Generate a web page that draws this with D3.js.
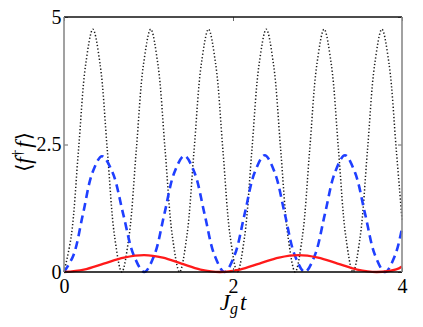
<!DOCTYPE html>
<html>
<head>
<meta charset="utf-8">
<script src="https://cdn.jsdelivr.net/npm/d3@7"></script>
<style>
  body { margin: 0; background: #fff; }
  svg { display: block; }
</style>
</head>
<body>
<svg id="chart" width="423" height="327"></svg>
<script>
const xTicks = [0, 2, 4];
const yTicks = [0, 2.5, 5];
const yTickLabels = ["0", "2.5", "5"];

// black dotted
const tBlack = [0, 0.0855, 0.171, 0.2565, 0.342, 0.4275, 0.513, 0.5985, 0.684, 0.7695, 0.855, 0.9405,
  1.026, 1.1115, 1.197, 1.2825, 1.368, 1.4535, 1.539, 1.6245, 1.71, 1.7955, 1.881, 1.9665,
  2.052, 2.1375, 2.223, 2.3085, 2.394, 2.4795, 2.565, 2.6505, 2.736, 2.8215, 2.907, 2.9925,
  3.078, 3.1635, 3.249, 3.3345, 3.42, 3.5055, 3.591, 3.6765, 3.762, 3.8475, 3.933, 4];
const nBlack = [0, 0.70, 2.38, 4.07, 4.76, 4.07, 2.38, 0.70, 0, 0.70, 2.38, 4.07,
  4.76, 4.07, 2.38, 0.70, 0, 0.70, 2.38, 4.07, 4.76, 4.07, 2.38, 0.70,
  0, 0.70, 2.38, 4.07, 4.76, 4.07, 2.38, 0.70, 0, 0.70, 2.38, 4.07,
  4.76, 4.07, 2.38, 0.70, 0, 0.70, 2.38, 4.07, 4.76, 4.07, 2.38, 1.03];

// blue dashed
const tBlue = [0, 0.112, 0.225, 0.337, 0.45, 0.575, 0.70, 0.825, 0.95, 1.069, 1.188, 1.306,
  1.425, 1.544, 1.663, 1.781, 1.90, 2.019, 2.138, 2.256, 2.375, 2.494, 2.613, 2.731,
  2.85, 2.969, 3.088, 3.206, 3.325, 3.444, 3.563, 3.681, 3.80, 3.919, 4];
const nBlue = [0, 0.33, 1.14, 1.95, 2.27, 1.95, 1.14, 0.33, 0, 0.33, 1.14, 1.95,
  2.28, 1.95, 1.14, 0.33, 0, 0.33, 1.14, 1.95, 2.29, 1.95, 1.14, 0.33,
  0, 0.33, 1.14, 1.95, 2.29, 1.95, 1.14, 0.33, 0, 0.33, 0.86];

// red solid
const tRed = [0, 0.235, 0.47, 0.71, 0.95, 1.17, 1.39, 1.615, 1.845, 2.081, 2.3125, 2.544,
  2.775, 3.006, 3.2375, 3.469, 3.70, 3.931, 4];
const nRed = [0, 0.048, 0.165, 0.282, 0.33, 0.282, 0.165, 0.048, 0, 0.048, 0.165, 0.282,
  0.33, 0.282, 0.165, 0.048, 0, 0.05, 0.11];

const SERIF = "Liberation Serif";

const svg = d3.select("#chart");
const x = d3.scaleLinear().domain([0, 4]).range([64, 402]);
const y = d3.scaleLinear().domain([0, 5]).range([272, 17]);

const line = d3.line()
  .x(d => x(d[0]))
  .y(d => y(d[1]))
  .curve(d3.curveCatmullRom);

const series = [
  { t: tBlack, v: nBlack, color: "#1a1a1a", width: 1.5, dash: "1.3,2.1" },
  { t: tBlue, v: nBlue, color: "#1f3fff", width: 2.6, dash: "8,5" },
  { t: tRed, v: nRed, color: "#ff1a1a", width: 2.4, dash: null }
];

series.forEach(s => {
  svg.append("path")
    .datum(s.t.map((t, i) => [t, s.v[i]]))
    .attr("d", line)
    .attr("fill", "none")
    .attr("stroke", s.color)
    .attr("stroke-width", s.width)
    .attr("stroke-dasharray", s.dash);
});

// axes (ticks inside)
const xAxis = svg.append("g")
  .attr("transform", `translate(0,${y(0)})`)
  .call(d3.axisBottom(x).tickValues(xTicks).tickFormat(d3.format("d"))
    .tickSizeInner(-4).tickSizeOuter(0).tickPadding(7));
const yAxis = svg.append("g")
  .attr("transform", `translate(${x(0)},0)`)
  .call(d3.axisLeft(y).tickValues(yTicks).tickFormat((d, i) => yTickLabels[i])
    .tickSizeInner(-4).tickSizeOuter(0).tickPadding(2.5));
const topAxis = svg.append("g")
  .attr("transform", `translate(0,${y(5)})`)
  .call(d3.axisTop(x).tickValues(xTicks).tickFormat("").tickSizeInner(-4).tickSizeOuter(0));
const rightAxis = svg.append("g")
  .attr("transform", `translate(${x(4)},0)`)
  .call(d3.axisRight(y).tickValues(yTicks).tickFormat("").tickSizeInner(-4).tickSizeOuter(0));

[xAxis, yAxis, topAxis, rightAxis].forEach(g => {
  g.attr("font-family", SERIF).attr("font-size", 20);
  g.select(".domain").remove();
  g.selectAll("text").attr("fill", "#000");
  g.selectAll(".tick line").attr("stroke", "#666");
});

// frame
svg.append("line").attr("x1", x(0)).attr("x2", x(4)).attr("y1", y(5)).attr("y2", y(5))
  .attr("stroke", "#111").attr("stroke-width", 1.5);
svg.append("line").attr("x1", x(0)).attr("x2", x(4)).attr("y1", y(0)).attr("y2", y(0))
  .attr("stroke", "#000").attr("stroke-width", 1.5);
svg.append("line").attr("x1", x(0)).attr("x2", x(0)).attr("y1", y(0)).attr("y2", y(5))
  .attr("stroke", "#8a8a8a").attr("stroke-width", 1.6);
svg.append("line").attr("x1", x(4)).attr("x2", x(4)).attr("y1", y(0)).attr("y2", y(5))
  .attr("stroke", "#8a8a8a").attr("stroke-width", 1.6);

// axis labels
const xl = svg.append("text")
  .attr("x", (x(0) + x(4)) / 2)
  .attr("y", 310)
  .attr("text-anchor", "middle")
  .attr("font-family", SERIF)
  .attr("font-size", 23)
  .attr("font-style", "italic");
xl.append("tspan").text("J");
xl.append("tspan").attr("font-size", 16).attr("dy", 4).text("g");
xl.append("tspan").attr("dy", -4).attr("dx", 2).text("t");

const yl = svg.append("text")
  .attr("transform", `translate(31,152) rotate(-90)`)
  .attr("text-anchor", "middle")
  .attr("font-family", SERIF)
  .attr("font-size", 23);
yl.append("tspan").attr("font-family", "DejaVu Serif").attr("font-size", 21).text("⟨");
yl.append("tspan").attr("font-style", "italic").text("f");
yl.append("tspan").attr("font-size", 15).attr("dy", -9).text("†");
yl.append("tspan").attr("dy", 9).attr("dx", 2).attr("font-style", "italic").text("f");
yl.append("tspan").attr("font-family", "DejaVu Serif").attr("font-size", 21).attr("dx", 1).text("⟩");
</script>
</body>
</html>
